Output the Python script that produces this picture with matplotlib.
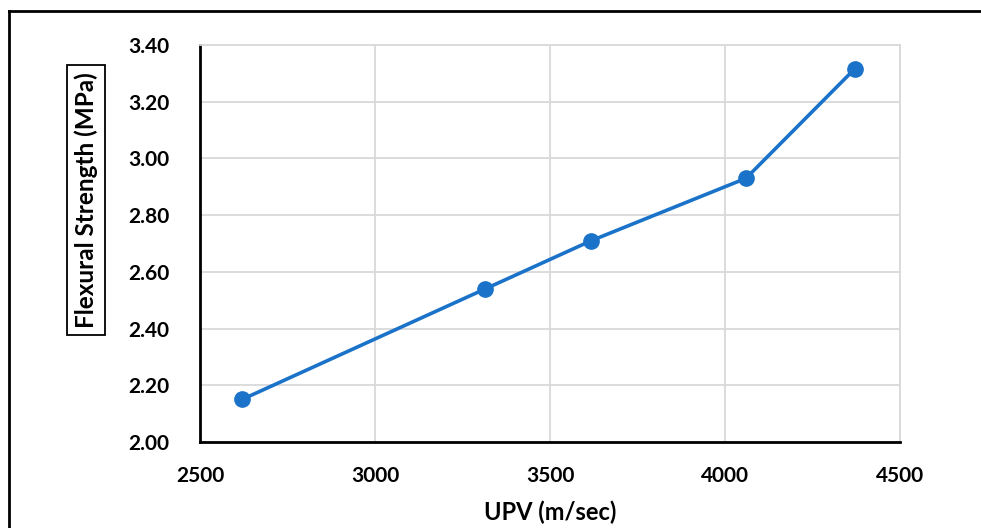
import matplotlib
matplotlib.use("Agg")
from matplotlib import pyplot as plt
from matplotlib.lines import Line2D

# data
upv = [2620, 3315, 3618, 4060, 4370]
flexural = [2.15, 2.54, 2.71, 2.93, 3.315]
x_ticks = [2500, 3000, 3500, 4000, 4500]
y_ticks = [2.00, 2.20, 2.40, 2.60, 2.80, 3.00, 3.20, 3.40]

plt.rcParams['font.family'] = ['Lato', 'DejaVu Sans']
plt.rcParams['font.weight'] = 'bold'

W, H = 981, 528
fig = plt.figure(figsize=(W / 100, H / 100), dpi=100)
ax = fig.add_axes([200 / W, (H - 442) / H, 700 / W, 397 / H])

ax.plot(upv, flexural, '-o', color='#1a73c9', lw=2.6, markersize=11, zorder=3)

ax.set_xlim(2500, 4500)
ax.set_ylim(2.0, 3.4)
ax.set_xticks(x_ticks)
ax.set_yticks(y_ticks)
ax.set_yticklabels([f"{v:.2f}" for v in y_ticks])
ax.tick_params(length=0, labelsize=15)
ax.tick_params(axis='y', pad=22)
ax.tick_params(axis='x', pad=17)
for lab in ax.get_xticklabels() + ax.get_yticklabels():
    lab.set_fontweight('bold')

ax.grid(True, color='#d9d9d9', lw=1.3)
ax.set_axisbelow(True)
for s in ['top', 'right']:
    ax.spines[s].set_color('#d9d9d9')
    ax.spines[s].set_linewidth(1.3)
for s in ['left', 'bottom']:
    ax.spines[s].set_color('black')
    ax.spines[s].set_linewidth(2)

fig.text(550 / W, 1 - 512 / H, "UPV (m/sec)", ha='center', va='center',
         fontsize=17, fontweight='bold')
fig.text(86 / W, 1 - 200 / H, "Flexural Strength (MPa)", rotation=90,
         ha='center', va='center', fontsize=17.5, fontweight='bold',
         bbox=dict(facecolor='white', edgecolor='black', lw=1.3, pad=5))

# outer frame (left and top edges visible)
fig.add_artist(Line2D([9 / W, 9 / W], [0, 1 - 11 / H], color='black', lw=2))
fig.add_artist(Line2D([9 / W, 1], [1 - 11 / H, 1 - 11 / H], color='black', lw=2))

fig.savefig('out.png', dpi=100)
